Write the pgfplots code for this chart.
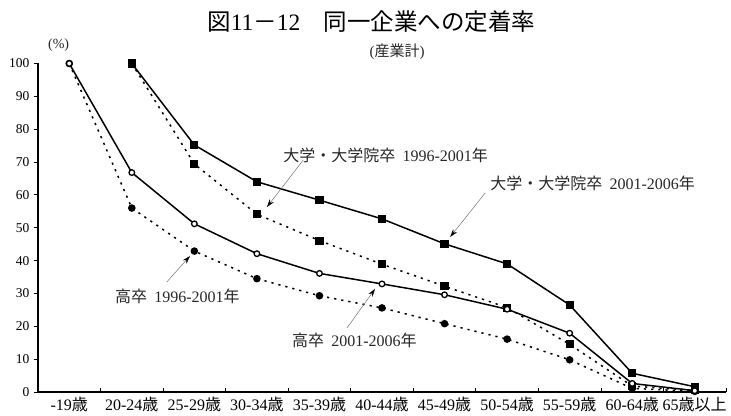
\documentclass[border=0pt]{standalone}
\usepackage{fontspec}
\setmainfont{Liberation Serif}
\newfontfamily\cjk{Noto Sans CJK JP}
\usepackage{pgfplots}
\pgfplotsset{compat=1.18}
\usetikzlibrary{arrows.meta}
\begin{document}
\begin{tikzpicture}
\begin{axis}[
  at={(0,0)}, anchor=south west,
  scale only axis, width=688bp, height=328.5bp,
  xmin=-0.5, xmax=10.5, ymin=0, ymax=100,
  axis lines*=left,
  axis line style={line width=1.1bp, black},
  clip=false,
  xtick={0,...,10},
  xticklabels={{-19{\cjk 歳}},{20-24{\cjk 歳}},{25-29{\cjk 歳}},{30-34{\cjk 歳}},{35-39{\cjk 歳}},{40-44{\cjk 歳}},{45-49{\cjk 歳}},{50-54{\cjk 歳}},{55-59{\cjk 歳}},{60-64{\cjk 歳}},{65{\cjk 歳以上}}},
  minor xtick={-0.5,0.5,...,10.5},
  ytick={0,10,...,100},
  tick align=inside,
  major tick length=4bp, minor tick length=4bp,
  major x tick style={draw=none},
  minor x tick style={line width=0.8bp, black},
  major y tick style={xshift=-4bp, line width=0.8bp, black},
  xtick pos=left, ytick pos=left,
  x tick label style={font=\fontsize{16bp}{18bp}\selectfont, yshift=-1.5bp},
  y tick label style={font=\fontsize{13.5bp}{15bp}\selectfont, xshift=-5bp},
  /pgf/number format/assume math mode=true,
  every axis plot/.append style={line width=1.5bp},
]
% 大学・大学院卒 1996-2001年 (dotted, filled squares)
\addplot[black, dash pattern=on 2.2bp off 5bp, mark=square*, mark size=3.3bp, mark options={solid, fill=black}]
  coordinates {(1,100)(2,69.4)(3,54.1)(4,46.1)(5,38.9)(6,32.2)(7,25.7)(8,14.5)(9,1.8)(10,0.5)};
% 高卒 1996-2001年 (dotted, filled circles)
\addplot[black, dash pattern=on 2.2bp off 5bp, mark=*, mark size=3bp, mark options={solid, fill=black}]
  coordinates {(0,100)(1,56.0)(2,42.9)(3,34.5)(4,29.3)(5,25.6)(6,20.8)(7,16.1)(8,9.8)(9,1.1)(10,0.2)};
% 大学・大学院卒 2001-2006年 (solid, filled squares)
\addplot[black, solid, mark=square*, mark size=3.3bp, mark options={fill=black}]
  coordinates {(1,100)(2,75.2)(3,64.0)(4,58.4)(5,52.7)(6,45.1)(7,39.0)(8,26.5)(9,5.7)(10,1.6)};
% 高卒 2001-2006年 (solid, open circles)
\addplot[black, solid, mark=*, mark size=2.8bp, mark options={fill=white, line width=1.3bp}]
  coordinates {(0,100)(1,66.8)(2,51.2)(3,42.1)(4,36.1)(5,32.9)(6,29.6)(7,25.2)(8,17.9)(9,2.6)(10,0.4)};

% annotations
\tikzset{ann/.style={font=\fontsize{16bp}{18bp}\selectfont, text=black!85, anchor=west, inner sep=0pt},
         arr/.style={draw=black!55, line width=0.5bp, -{Stealth[length=8bp,width=5bp,color=black]}}}
\node[ann] at (axis cs:3.42,72.1) {{\cjk 大学・大学院卒}\hspace{0.45em}1996-2001{\cjk 年}};
\draw[arr] (axis cs:3.74,70.6) -- (axis cs:3.16,56.3);
\node[ann] at (axis cs:6.73,63.6) {{\cjk 大学・大学院卒}\hspace{0.45em}2001-2006{\cjk 年}};
\draw[arr] (axis cs:6.65,60.6) -- (axis cs:6.09,47.2);
\node[ann] at (axis cs:0.73,29.2) {{\cjk 高卒}\hspace{0.45em}1996-2001{\cjk 年}};
\draw[arr] (axis cs:1.56,33.5) -- (axis cs:1.93,41.4);
\node[ann] at (axis cs:3.56,15.8) {{\cjk 高卒}\hspace{0.45em}2001-2006{\cjk 年}};
\draw[arr] (axis cs:4.44,19.5) -- (axis cs:4.89,31.4);

% titles
\node[font=\fontsize{23.5bp}{26bp}\selectfont, inner sep=0pt] at (axis cs:4.83,112.8) {{\cjk 図}11{\cjk －}12{\cjk 　同一企業への定着率}};
\node[font=\fontsize{15bp}{17bp}\selectfont, inner sep=0pt, text=black!85] at (axis cs:5.24,103.6) {({\cjk 産業計})};
\node[font=\fontsize{14bp}{16bp}\selectfont, inner sep=0pt, text=black!85] at (axis cs:-0.17,105.6) {(\%)};
\end{axis}
\pgfresetboundingbox
\path[use as bounding box] (-38bp,-24bp) rectangle (693bp,392bp);
\end{tikzpicture}
\end{document}
